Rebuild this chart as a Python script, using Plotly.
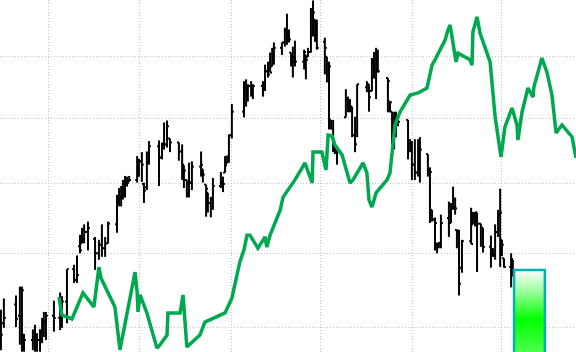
import plotly.graph_objects as go

# x values: days relative to the first month gridline
bar_day = [-15.9, -14.9, -10.8, -9.5, -8.8, -8.1, -5.1, -4.4, -3.7, -2.7, -2.0, -1.4, -0.7, 2.0, 4.1, 4.7, 6.4, 8.8, 9.8, 10.8,
           11.5, 12.2, 13.5, 15.9, 17.2, 18.2, 19.3, 20.3, 23.3, 24.0, 24.7, 25.3, 26.0, 26.7, 27.4, 30.1, 30.7, 31.7, 32.4, 33.4,
           34.1, 37.5, 38.5, 39.2, 40.2, 41.2, 44.2, 45.3, 45.9, 46.9, 47.6, 48.6, 51.7, 52.3, 53.4, 54.0, 55.0, 55.7, 58.4, 59.1,
           59.8, 60.5, 61.1, 62.1, 66.2, 66.9, 67.5, 68.6, 69.2, 72.6, 73.3, 74.3, 75.0, 75.7, 76.3, 79.0, 80.0, 80.7, 81.4, 82.1,
           82.7, 83.4, 86.5, 87.1, 87.8, 88.8, 89.5, 90.2, 90.8, 93.5, 94.2, 94.9, 95.6, 96.3, 96.9, 97.6, 100.6, 101.3, 102.0, 102.7,
           103.7, 104.4, 107.7, 108.4, 109.4, 110.1, 110.8, 111.4, 114.8, 115.5, 116.2, 116.9, 117.5, 118.2, 121.6, 122.3, 122.9, 123.9, 125.0, 125.6,
           128.3, 129.0, 129.7, 130.7, 131.4, 132.0, 132.7, 135.4, 136.1, 136.8, 137.5, 138.1, 138.8, 139.8, 142.9, 143.5, 144.2, 144.9, 146.2, 146.9,
           149.6, 150.3, 151.0, 152.0, 152.7, 153.3, 154.0, 156.4, 157.0, 158.4, 159.1]

bar_open = [151.0, 150.5, 153.0, 151.5, 155.1, 149.0, 148.3, 148.7, 148.7, 148.3, 148.3, 149.6, 150.7, 151.5, 151.2, 150.3, 153.4, 157.8, 156.3, 161.0,
            161.4, 161.9, 163.0, 162.0, 160.0, 161.2, 160.7, 161.4, 164.1, 167.7, 168.0, 169.1, 169.3, 170.2, 170.5, 170.6, 171.2, 173.4, 170.0, 169.5,
            173.2, 175.7, 174.0, 176.0, 176.0, 176.9, 176.3, 174.9, 172.8, 170.6, 168.6, 170.2, 172.6, 172.2, 169.9, 168.7, 167.2, 167.8, 169.7, 170.2,
            171.7, 173.1, 173.4, 177.4, 181.1, 182.3, 183.4, 185.2, 183.9, 185.2, 184.7, 187.6, 189.0, 188.4, 190.3, 191.5, 192.4, 194.4, 194.0, 190.7,
            190.3, 190.0, 189.2, 190.3, 190.0, 190.8, 196.0, 196.3, 193.4, 192.5, 190.0, 187.6, 179.8, 178.5, 175.7, 175.2, 180.2, 183.1, 182.5, 181.9,
            177.4, 178.0, 185.0, 185.5, 184.4, 189.0, 186.6, 188.7, 186.5, 182.7, 181.1, 177.5, 180.6, 179.8, 179.8, 176.0, 175.2, 172.9, 171.7, 173.0,
            174.5, 172.2, 166.2, 164.8, 161.4, 161.3, 161.4, 165.0, 164.3, 167.0, 166.5, 163.3, 163.2, 158.0, 161.7, 164.1, 165.2, 165.8, 164.2, 163.6,
            160.9, 160.6, 159.7, 163.0, 165.5, 161.9, 159.3, 158.1, 159.1, 155.4, 154.6]

bar_high = [152.3, 153.8, 154.2, 155.4, 155.4, 149.1, 149.7, 150.3, 149.2, 149.7, 151.2, 152.0, 152.0, 153.5, 154.6, 154.1, 157.8, 158.4, 159.7, 162.6,
            163.6, 164.1, 164.5, 162.3, 161.9, 164.1, 162.3, 164.5, 168.4, 169.4, 169.7, 170.6, 171.2, 171.1, 171.2, 174.2, 173.8, 174.8, 170.2, 174.9,
            176.5, 176.6, 176.3, 179.4, 179.7, 176.9, 176.3, 176.0, 172.8, 170.6, 173.2, 173.4, 174.9, 172.2, 169.9, 168.7, 168.1, 170.9, 171.8, 171.1,
            174.2, 174.3, 177.5, 182.3, 186.0, 186.3, 185.5, 186.0, 185.5, 186.0, 188.7, 189.2, 190.7, 191.5, 192.4, 192.4, 194.9, 197.3, 194.6, 190.7,
            191.7, 192.7, 191.2, 190.3, 191.5, 198.3, 199.6, 196.3, 196.3, 193.2, 190.0, 189.2, 179.8, 179.8, 176.3, 175.7, 184.7, 183.5, 183.1, 181.9,
            180.3, 185.5, 186.0, 185.5, 189.8, 190.8, 191.5, 191.2, 186.5, 182.7, 181.1, 181.1, 181.1, 180.6, 179.8, 176.8, 176.5, 176.8, 176.8, 177.1,
            174.5, 172.5, 166.2, 165.1, 161.4, 161.6, 165.5, 167.4, 167.2, 169.6, 168.0, 163.3, 163.3, 161.9, 166.5, 165.9, 165.9, 165.8, 164.2, 163.6,
            162.5, 160.7, 164.1, 166.2, 169.3, 161.9, 159.3, 160.0, 159.1, 155.4, 155.3]

bar_low = [147.0, 149.9, 150.0, 147.7, 146.8, 146.8, 147.0, 146.8, 146.8, 146.8, 147.9, 148.7, 148.3, 149.4, 149.6, 149.9, 150.5, 155.9, 155.9, 160.0,
           161.4, 161.4, 160.4, 157.7, 159.1, 159.5, 159.5, 161.4, 162.9, 166.7, 166.7, 167.7, 168.0, 169.6, 170.3, 170.2, 171.1, 170.3, 167.2, 169.1,
           172.9, 169.7, 173.7, 175.2, 175.5, 174.8, 173.5, 170.6, 169.4, 168.0, 168.0, 169.1, 171.1, 170.2, 165.2, 165.8, 165.1, 166.2, 169.4, 168.8,
           171.7, 173.1, 173.2, 176.9, 180.2, 181.9, 182.7, 183.5, 183.1, 183.5, 184.4, 186.6, 187.4, 188.4, 188.7, 190.3, 191.7, 192.0, 192.4, 188.4,
           186.6, 188.4, 187.9, 186.3, 190.0, 190.7, 193.4, 192.5, 191.2, 187.1, 185.8, 178.3, 178.3, 174.8, 174.5, 172.9, 180.2, 181.0, 181.0, 177.1,
           174.8, 177.1, 184.2, 181.1, 184.4, 186.6, 183.1, 187.4, 181.0, 181.0, 176.0, 175.2, 177.1, 178.8, 173.7, 174.8, 170.6, 170.6, 171.1, 170.2,
           171.1, 164.3, 164.5, 160.4, 160.0, 160.7, 160.7, 162.3, 164.3, 166.2, 165.5, 160.7, 154.2, 157.3, 161.3, 164.1, 163.8, 157.4, 160.9, 160.1,
           158.0, 159.5, 159.1, 162.3, 158.1, 159.6, 158.0, 155.3, 156.8, 153.4, 152.7]

bar_close = [149.0, 151.2, 151.1, 155.1, 154.9, 148.3, 148.7, 148.7, 148.3, 148.3, 149.6, 150.7, 151.5, 151.2, 150.3, 153.4, 157.8, 156.3, 157.0, 160.4,
             161.9, 163.0, 163.6, 160.0, 161.2, 160.7, 161.4, 164.2, 167.7, 168.0, 169.1, 169.3, 170.2, 170.2, 170.6, 171.2, 173.4, 172.9, 169.0, 173.2,
             175.7, 174.0, 176.0, 176.0, 178.8, 176.3, 174.9, 172.9, 172.0, 168.6, 170.2, 172.6, 172.9, 171.4, 169.3, 167.2, 167.8, 169.7, 170.2, 170.0,
             172.8, 173.4, 177.4, 181.1, 182.3, 183.4, 185.2, 183.9, 185.2, 184.7, 187.6, 187.1, 187.4, 190.3, 191.5, 192.4, 194.4, 192.9, 192.9, 190.3,
             189.2, 189.2, 190.8, 189.5, 190.8, 197.5, 197.5, 193.4, 191.5, 191.5, 187.6, 188.4, 178.5, 175.7, 175.2, 174.9, 183.1, 181.9, 181.9, 177.4,
             176.0, 185.5, 185.5, 183.4, 186.6, 186.6, 188.7, 187.6, 186.0, 182.6, 177.5, 180.6, 179.8, 179.5, 176.0, 175.2, 172.9, 171.7, 175.2, 175.2,
             172.2, 171.8, 164.8, 164.3, 161.3, 161.4, 164.3, 164.3, 166.5, 166.5, 166.4, 163.2, 155.8, 161.7, 161.3, 165.2, 165.8, 164.2, 163.6, 160.9,
             160.6, 159.7, 163.0, 165.5, 165.8, 161.2, 158.1, 159.2, 156.8, 154.6, 154.1]

# indicator line (secondary scale 0-100)
ind_day = [3.7, 4.7, 8.1, 11.8, 15.5, 17.2, 17.9, 22.6, 24.3, 29.4, 30.1, 30.4, 31.1, 33.4, 36.8, 37.8, 40.2, 40.5, 44.6, 45.6,
           46.9, 48.9, 51.3, 53.0, 59.8, 62.1, 64.8, 66.2, 67.2, 68.2, 70.9, 73.3, 73.9, 75.0, 78.4, 79.4, 81.1, 83.4, 86.8, 89.2,
           89.5, 92.5, 93.9, 94.6, 95.9, 96.9, 99.3, 102.0, 103.0, 106.4, 107.7, 108.4, 109.4, 110.8, 114.5, 115.5, 117.2, 118.9, 122.3, 125.0,
           128.0, 129.7, 130.7, 134.1, 135.1, 135.8, 137.8, 138.5, 142.5, 143.2, 143.5, 144.9, 145.9, 149.3, 151.0, 153.0, 154.3, 156.7, 158.4, 158.7,
           160.1, 162.1, 163.8, 164.1, 166.8, 168.5, 170.2, 171.6, 173.6, 177.0, 178.3]
ind_val = [15.6, 10.5, 9.4, 16.8, 12.8, 24.1, 21.0, 12.8, 0.6, 22.7, 17.0, 11.4, 16.2, 11.1, 1.1, 2.0, 4.8, 11.1, 11.1, 16.2,
           1.4, 2.8, 4.8, 8.5, 11.1, 15.3, 25.6, 29.0, 33.2, 33.2, 29.5, 32.7, 29.8, 33.2, 40.3, 44.0, 46.0, 48.9, 53.7, 48.0,
           56.8, 56.8, 51.7, 61.6, 61.4, 58.8, 56.0, 48.0, 48.9, 53.7, 50.9, 43.2, 41.2, 45.2, 48.9, 50.9, 64.5, 68.2, 73.0, 73.6,
           75.0, 81.5, 83.0, 88.6, 91.5, 92.9, 82.4, 84.9, 83.0, 81.5, 90.9, 95.2, 90.6, 82.4, 66.8, 55.4, 63.9, 69.3, 64.5, 60.2,
           68.2, 75.0, 72.4, 75.3, 83.5, 79.5, 73.0, 62.2, 64.5, 61.1, 55.1]

# highlighted zone (x in days, y on the 0-100 scale)
zone_days = [157.4, 167.8]
zone_bottom = 0.0
zone_top = 23.3
zone_border_bottom = -5.0

month_ticks = [0, 31, 62, 92, 123, 153]
price_ticks = [150, 160, 170, 180, 190]

TICK = 0.65
ox, oy = [], []
for d, o, h, l, c in zip(bar_day, bar_open, bar_high, bar_low, bar_close):
    ox += [d, d, None, d - TICK, d, None, d, d + TICK, None]
    oy += [l, h, None, o, o, None, c, c, None]

fig = go.Figure()
x0, x1 = zone_days
fig.add_trace(go.Scatter(
    x=[x0, x1, x1, x0, x0], y=[zone_bottom, zone_bottom, zone_top, zone_top, zone_bottom], yaxis="y2",
    mode="lines", fill="toself",
    fillgradient=dict(type="vertical", start=zone_bottom, stop=zone_top,
                      colorscale=[[0, "#4dff4d"], [0.4, "#00ff00"], [0.7, "#8cff8c"], [1, "#ffffff"]]),
    line=dict(width=0, color="rgba(0,0,0,0)"), hoverinfo="skip", showlegend=False))
fig.add_trace(go.Scatter(
    x=[x0, x0, x1, x1], y=[zone_border_bottom, zone_top, zone_top, zone_border_bottom], yaxis="y2",
    mode="lines", line=dict(color="#00b2b2", width=2.5), hoverinfo="skip", showlegend=False))
fig.add_trace(go.Scatter(x=ox, y=oy, mode="lines", line=dict(color="black", width=2),
                         hoverinfo="skip", showlegend=False, connectgaps=False))
fig.add_trace(go.Scatter(x=ind_day, y=ind_val, yaxis="y2", mode="lines",
                         line=dict(color="#00a84f", width=3.5), showlegend=False))

grid = dict(showgrid=True, gridcolor="#c4c4c4", gridwidth=1, griddash="1px,2px",
            showticklabels=False, zeroline=False, showline=False, ticks="")
fig.update_layout(
    width=576, height=352, margin=dict(l=0, r=0, t=0, b=0),
    paper_bgcolor="white", plot_bgcolor="white", showlegend=False,
    xaxis=dict(range=[-16.21, 178.32], tickvals=month_ticks, **grid),
    yaxis=dict(type="log", range=[2.16662, 2.30034], tickvals=price_ticks, **grid),
    yaxis2=dict(overlaying="y", range=[0, 100], showgrid=False, showticklabels=False,
                zeroline=False, showline=False),
)
fig.write_html("out.html")
